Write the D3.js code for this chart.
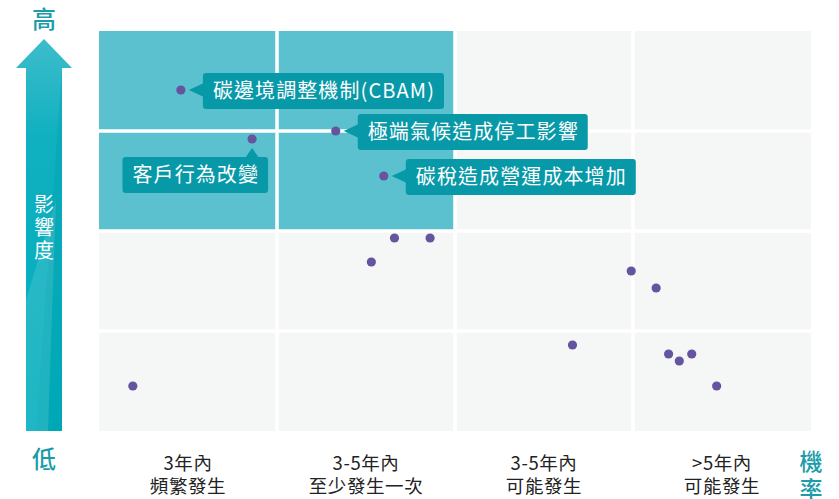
<!DOCTYPE html>
<html>
<head>
<meta charset="utf-8">
<script src="https://cdn.jsdelivr.net/npm/d3@7"></script>
<style>
  body { margin: 0; background: #fff; }
  svg text { font-family: "Noto Sans CJK TC", "Noto Sans", sans-serif; }
</style>
</head>
<body>
<svg id="chart"></svg>
<script>
var width = 839, height = 499;

// probability categories (x) and impact levels (y, low -> high)
var probLines = [
    ['3年內', '頻繁發生'],
    ['3-5年內', '至少發生一次'],
    ['3-5年內', '可能發生'],
    ['>5年內', '可能發生'],
];
var probCats = ['p1', 'p2', 'p3', 'p4'];
var impactCats = ['i1', 'i2', 'i3', 'i4'];
var hotCols = ['p1', 'p2'];
var hotRows = ['i3', 'i4'];

// risk points: probability position (0-4) and impact position (0-4)
var riskX = [0.46, 0.86, 1.33, 1.60, 1.66, 1.86, 1.53, 2.99, 3.13, 2.66, 3.20, 3.26, 3.33, 3.47, 0.19];
var riskY = [3.41, 2.92, 3.00, 2.55, 1.93, 1.93, 1.69, 1.60, 1.43, 0.86, 0.77, 0.70, 0.77, 0.45, 0.45];
var riskNames = ['碳邊境調整機制(CBAM)', '客戶行為改變', '極端氣候造成停工影響', '碳稅造成營運成本增加',
    '', '', '', '', '', '', '', '', '', '', ''];

var plot = { left: 99, right: 811, top: 31, bottom: 431 };

var svg = d3.select('svg#chart')
    .attr('width', width)
    .attr('height', height);

var xBand = d3.scaleBand().domain(probCats).range([plot.left, plot.right]);
var yBand = d3.scaleBand().domain(impactCats).range([plot.bottom, plot.top]);
var x = d3.scaleLinear().domain([0, 4]).range([plot.left, plot.right]);
var y = d3.scaleLinear().domain([0, 4]).range([plot.bottom, plot.top]);

var gap = 1.75;

// cells
var cells = [];
probCats.forEach(function (p) {
    impactCats.forEach(function (i) {
        cells.push({ p: p, i: i, hot: hotCols.indexOf(p) >= 0 && hotRows.indexOf(i) >= 0 });
    });
});
svg.append('g').selectAll('rect.cell')
    .data(cells)
    .enter().append('rect')
    .classed('cell', true)
    .attr('x', function (d) { return xBand(d.p) + (d.p === probCats[0] ? 0 : gap); })
    .attr('y', function (d) { return yBand(d.i) + (d.i === impactCats[3] ? 0 : gap); })
    .attr('width', function (d) {
        var w = xBand.bandwidth();
        if (d.p !== probCats[0]) w -= gap;
        if (d.p !== probCats[3]) w -= gap;
        return w;
    })
    .attr('height', function (d) {
        var h = yBand.bandwidth();
        if (d.i !== impactCats[0]) h -= gap;
        if (d.i !== impactCats[3]) h -= gap;
        return h;
    })
    .attr('fill', function (d) { return d.hot ? '#5bc1cf' : '#f5f7f7'; });

// vertical arrow
var defs = svg.append('defs');
var grad = defs.append('linearGradient')
    .attr('id', 'arrowGrad')
    .attr('x1', 0).attr('y1', 0).attr('x2', 0).attr('y2', 1);
grad.append('stop').attr('offset', '0%').attr('stop-color', '#3dbdcb');
grad.append('stop').attr('offset', '25%').attr('stop-color', '#10b0c0');
grad.append('stop').attr('offset', '100%').attr('stop-color', '#00aebd');

var ax = 44;
svg.append('path')
    .attr('d', 'M' + ax + ',39 L' + (ax + 28) + ',68 L' + (ax + 18) + ',68 L' + (ax + 18) + ',' + plot.bottom
        + ' L' + (ax - 18) + ',' + plot.bottom + ' L' + (ax - 18) + ',68 L' + (ax - 28) + ',68 Z')
    .attr('fill', 'url(#arrowGrad)');
// shading on the shaft
svg.append('path')
    .attr('d', 'M' + (ax + 18) + ',68 L' + (ax + 18) + ',' + plot.bottom + ' L' + (ax - 8) + ',' + plot.bottom + ' Z')
    .attr('fill', '#009fad')
    .attr('opacity', 0.35);
svg.append('path')
    .attr('d', 'M' + (ax - 18) + ',300 L' + (ax + 12) + ',200 L' + (ax + 4) + ',' + plot.bottom + ' L' + (ax - 18) + ',' + plot.bottom + ' Z')
    .attr('fill', '#ffffff')
    .attr('opacity', 0.12);

var teal = '#1a9caa';
svg.append('text')
    .attr('x', ax).attr('y', 28)
    .attr('text-anchor', 'middle')
    .attr('font-size', 24)
    .attr('font-weight', 500)
    .attr('fill', teal)
    .text('高');
svg.append('text')
    .attr('x', ax).attr('y', 468)
    .attr('text-anchor', 'middle')
    .attr('font-size', 24)
    .attr('font-weight', 500)
    .attr('fill', teal)
    .text('低');
svg.append('text')
    .attr('x', ax).attr('text-anchor', 'middle')
    .attr('font-size', 20)
    .attr('fill', '#fff')
    .selectAll('tspan')
    .data(['影', '響', '度'])
    .enter().append('tspan')
    .attr('x', ax)
    .attr('y', function (d, i) { return 212 + i * 23; })
    .text(function (d) { return d; });

// x axis category labels
var xLab = svg.append('g').selectAll('text.xlab')
    .data(probCats)
    .enter().append('text')
    .classed('xlab', true)
    .attr('text-anchor', 'middle')
    .attr('font-size', 18.5)
    .attr('letter-spacing', 0.6)
    .attr('fill', '#222');
xLab.selectAll('tspan')
    .data(function (d, i) { return probLines[i].map(function (s) { return { p: d, s: s }; }); })
    .enter().append('tspan')
    .attr('x', function (d) { return xBand(d.p) + xBand.bandwidth() / 2; })
    .attr('y', function (d, i) { return 470 + i * 23; })
    .text(function (d) { return d.s; });

svg.append('text')
    .attr('text-anchor', 'middle')
    .attr('font-size', 23)
    .attr('font-weight', 500)
    .attr('fill', teal)
    .selectAll('tspan')
    .data(['機', '率'])
    .enter().append('tspan')
    .attr('x', 811)
    .attr('y', function (d, i) { return 470 + i * 28; })
    .text(function (d) { return d; });

// points
var points = riskX.map(function (v, i) { return { x: v, y: riskY[i], name: riskNames[i] }; });
svg.append('g').selectAll('circle')
    .data(points)
    .enter().append('circle')
    .attr('cx', function (d) { return x(d.x); })
    .attr('cy', function (d) { return y(d.y); })
    .attr('r', 4.6)
    .attr('fill', '#65559e');

// callouts
var boxFill = '#0899a9';
var boxH = 36;
points.filter(function (d) { return d.name; }).forEach(function (d) {
    var px = x(d.x), py = y(d.y);
    var g = svg.append('g');
    var t = g.append('text')
        .attr('font-size', 20)
        .attr('fill', '#fff')
        .attr('letter-spacing', 1.1)
        .text(d.name);
    var tw = t.node().getComputedTextLength();
    var bw = tw + 19;
    var bx, by;
    if (d.name === '客戶行為改變') {
        bx = px + 16 - bw;
        by = py + 18;
        g.insert('path', 'text')
            .attr('d', 'M' + px + ',' + (py + 9) + ' L' + (px + 7) + ',' + (by + 1) + ' L' + (px - 7) + ',' + (by + 1) + ' Z')
            .attr('fill', boxFill);
    } else {
        bx = px + 22;
        by = py - boxH / 2 + 1;
        g.insert('path', 'text')
            .attr('d', 'M' + (px + 8) + ',' + py + ' L' + (bx + 1) + ',' + (py - 7) + ' L' + (bx + 1) + ',' + (py + 7) + ' Z')
            .attr('fill', boxFill);
    }
    g.insert('rect', 'text')
        .attr('x', bx).attr('y', by)
        .attr('width', bw).attr('height', boxH)
        .attr('rx', 3)
        .attr('fill', boxFill);
    t.attr('x', bx + 10).attr('y', by + boxH / 2 + 7);
});
</script>
</body>
</html>
